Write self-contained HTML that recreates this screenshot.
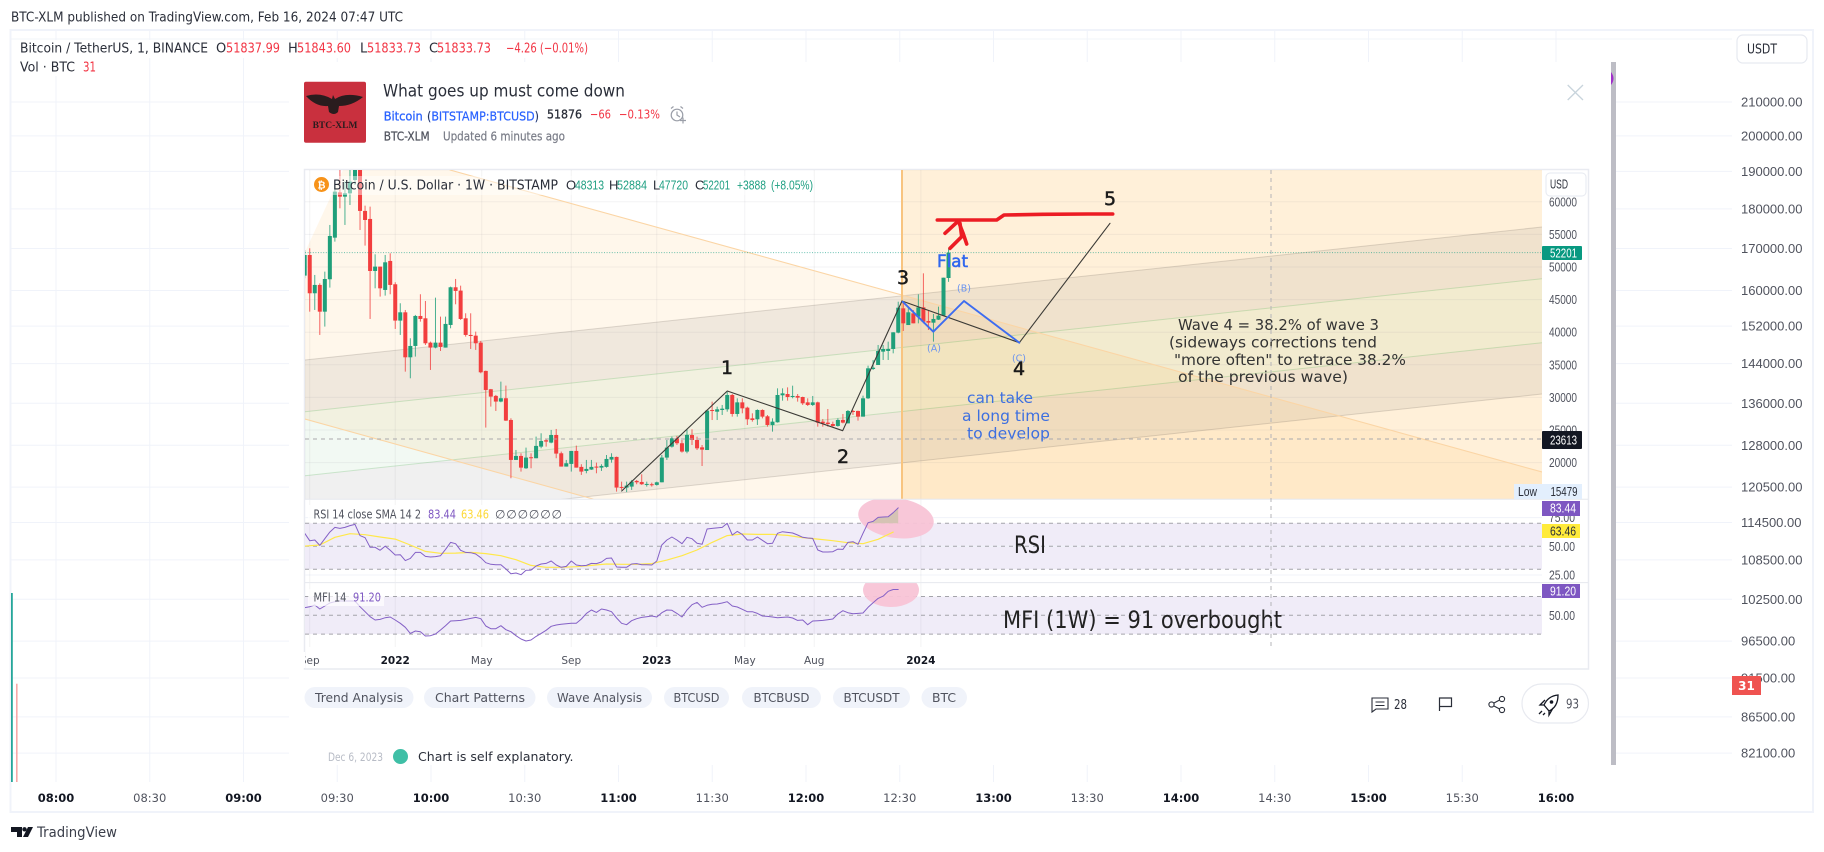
<!DOCTYPE html>
<html lang="en">
<head>
<meta charset="utf-8">
<title>BTC-XLM TradingView idea</title>
<style>
html,body{margin:0;padding:0;background:#fff;width:1824px;height:852px;overflow:hidden}
svg{display:block}
text{font-family:"DejaVu Sans","Liberation Sans",sans-serif;fill:#2a2e39;white-space:pre}
.l{font-family:"Liberation Sans","DejaVu Sans",sans-serif}
.r{fill:#f23645}.g{fill:#1f9f82}.b{fill:#2962ff}.m{fill:#787b86}
.pill{fill:#f0f3fa}
.ptxt{font-size:12.5px;fill:#50535e;text-anchor:middle}
.ind{font-size:12px;fill:#50535e}
</style>
</head>
<body>
<svg id="root" xmlns="http://www.w3.org/2000/svg" width="1824" height="852" viewBox="0 0 1824 852">
<defs>
<clipPath id="clipOuter"><rect x="11" y="31" width="1721" height="751"/></clipPath>
<clipPath id="clipMain"><rect x="305" y="170" width="1237" height="329"/></clipPath>
<clipPath id="clipRsi"><rect x="305" y="499" width="1237" height="83"/></clipPath>
<clipPath id="clipMfi"><rect x="305" y="583" width="1237" height="64"/></clipPath>
</defs>
<rect width="1824" height="852" fill="#fff"/>
<text x="11" y="21.5" font-size="13" textLength="392" lengthAdjust="spacingAndGlyphs">BTC-XLM published on TradingView.com, Feb 16, 2024 07:47 UTC</text>
<rect x="10.5" y="30" width="1802.5" height="782" fill="none" stroke="#f0f3fa" stroke-width="2"/>
<g id="outerGrid" clip-path="url(#clipOuter)"></g>
<g id="outerVol"></g>

<rect x="14" y="40" width="578" height="18" fill="#fff"/>
<rect x="14" y="58" width="86" height="18" fill="#fff"/>
<g>
<text x="20" y="52.5" font-size="13" textLength="188" lengthAdjust="spacingAndGlyphs">Bitcoin / TetherUS, 1, BINANCE</text>
<text x="216" y="52.5" font-size="13">O</text>
<text class="r" x="226" y="52.5" font-size="13" textLength="54" lengthAdjust="spacingAndGlyphs">51837.99</text>
<text x="288" y="52.5" font-size="13">H</text>
<text class="r" x="297" y="52.5" font-size="13" textLength="54" lengthAdjust="spacingAndGlyphs">51843.60</text>
<text x="360" y="52.5" font-size="13">L</text>
<text class="r" x="367" y="52.5" font-size="13" textLength="54" lengthAdjust="spacingAndGlyphs">51833.73</text>
<text x="429" y="52.5" font-size="13">C</text>
<text class="r" x="437" y="52.5" font-size="13" textLength="54" lengthAdjust="spacingAndGlyphs">51833.73</text>
<text class="r" x="506" y="52.5" font-size="13" textLength="82" lengthAdjust="spacingAndGlyphs">−4.26 (−0.01%)</text>
<text x="20" y="71.5" font-size="13" textLength="55" lengthAdjust="spacingAndGlyphs">Vol · BTC</text>
<text class="r" x="83" y="71.5" font-size="13" textLength="13" lengthAdjust="spacingAndGlyphs">31</text>
</g>

<rect x="1737" y="35" width="70" height="28" rx="6" fill="#fff" stroke="#e6e9f0" stroke-width="1.2"/>
<text x="1747" y="53.5" font-size="13" textLength="30" lengthAdjust="spacingAndGlyphs">USDT</text>
<g id="outerPriceAxis"></g>
<g id="outerTimeAxis"></g>
<rect x="1732" y="676" width="29" height="19" fill="#ef5350"/>
<text x="1746.5" y="690" font-size="12" font-weight="bold" text-anchor="middle" style="fill:#fff">31</text>

<g>
<path d="M11 827H22V837H17V832H11ZM33 827L28 837H23L28 827Z" fill="#131722"/>
<circle cx="24.5" cy="829.3" r="2.2" fill="#131722"/>
<text x="37" y="837" font-size="14" textLength="80" lengthAdjust="spacingAndGlyphs" style="fill:#3a3e4a">TradingView</text>
</g>

<!-- Idea popup -->
<rect x="289" y="62" width="1322" height="703" fill="#fff"/>
<rect x="1611" y="62" width="5" height="703" fill="#bdbdc5"/>
<path d="M1611 72Q1616 78.5 1611 85Z" fill="#a02fc9"/>
<g><path d="M1567.7 85L1583 100M1583 85L1567.7 100" stroke="#c8d4dc" stroke-width="1.3" fill="none"/></g>

<g>
<rect x="304" y="81.7" width="62" height="61" rx="2" fill="#c9303e"/>
<path d="M306 96Q320 92 332 99L333 95L335 99Q346 92 363 97Q352 106 339 106L338 112Q334 116 329 112L328 106Q316 107 306 96Z" fill="#2a1c1e"/>
<text x="335" y="128" font-size="9.5" font-weight="bold" text-anchor="middle" style="font-family:'Liberation Serif',serif;fill:#2a1c1e">BTC-XLM</text>
</g>
<text x="383" y="96.5" font-size="16.5" textLength="242" lengthAdjust="spacingAndGlyphs">What goes up must come down</text>
<text x="383.7" y="120.5" font-size="12.5" stroke="#2962ff" stroke-width=".3" textLength="39" lengthAdjust="spacingAndGlyphs" class="b">Bitcoin</text>
<text x="427" y="120.5" font-size="12.5" stroke="#2962ff" stroke-width=".2" textLength="112" lengthAdjust="spacingAndGlyphs"><tspan style="fill:#2a2e39">(</tspan><tspan class="b">BITSTAMP:BTCUSD</tspan><tspan style="fill:#2a2e39">)</tspan></text>
<text x="547" y="118.5" font-size="12.5" stroke="#2a2e39" stroke-width=".3" textLength="35" lengthAdjust="spacingAndGlyphs">51876</text>
<text class="r" x="590" y="118.5" font-size="12.5" textLength="21" lengthAdjust="spacingAndGlyphs">−66</text>
<text class="r" x="619" y="118.5" font-size="12.5" textLength="41" lengthAdjust="spacingAndGlyphs">−0.13%</text>
<g fill="none" stroke="#9a9ea8" stroke-width="1.2">
<circle cx="677" cy="115" r="5.8"/>
<path d="M677 111.5V115L680 117M671 108.5L673.5 106.5M683 108.5L680.5 106.5M680 120.5H686M683 117.5V123.5"/>
</g>
<text x="383.7" y="140.5" font-size="12.5" stroke="#50535e" stroke-width=".25" textLength="46" lengthAdjust="spacingAndGlyphs" style="fill:#50535e">BTC-XLM</text>
<text class="m" x="443" y="140.5" font-size="12.5" stroke="#787b86" stroke-width=".2" textLength="122" lengthAdjust="spacingAndGlyphs">Updated 6 minutes ago</text>

<rect x="304.5" y="169.5" width="1284" height="499.5" fill="#fff" stroke="#e9ebf1" stroke-width="1.5"/>

<g id="mainPane" clip-path="url(#clipMain)"></g>
<g id="rsiPane" clip-path="url(#clipRsi)"></g>
<g id="mfiPane" clip-path="url(#clipMfi)"></g>

<line x1="305" x2="1588" y1="499.3" y2="499.3" stroke="#e6e8ee"/>
<line x1="305" x2="1588" y1="582.6" y2="582.6" stroke="#e6e8ee"/>

<g>
<rect x="312" y="176" width="502" height="19" fill="#fff" opacity=".45"/>
<circle cx="321.5" cy="184.5" r="7.5" fill="#f7931a"/>
<text x="321.5" y="188.5" font-size="10" font-weight="bold" text-anchor="middle" style="fill:#fff">₿</text>
<text x="333" y="189.5" font-size="13" textLength="225" lengthAdjust="spacingAndGlyphs">Bitcoin / U.S. Dollar · 1W · BITSTAMP</text>
<text class="l" x="566" y="189.5" font-size="13">O</text>
<text class="l g" x="575" y="189.5" font-size="13" textLength="29" lengthAdjust="spacingAndGlyphs">48313</text>
<text class="l" x="609" y="189.5" font-size="13">H</text>
<text class="l g" x="617" y="189.5" font-size="13" textLength="30" lengthAdjust="spacingAndGlyphs">52884</text>
<text class="l" x="653" y="189.5" font-size="13">L</text>
<text class="l g" x="659" y="189.5" font-size="13" textLength="29" lengthAdjust="spacingAndGlyphs">47720</text>
<text class="l" x="695" y="189.5" font-size="13">C</text>
<text class="l g" x="703" y="189.5" font-size="13" textLength="27" lengthAdjust="spacingAndGlyphs">52201</text>
<text class="l g" x="737" y="189.5" font-size="13" textLength="29" lengthAdjust="spacingAndGlyphs">+3888</text>
<text class="l g" x="771" y="189.5" font-size="13" textLength="42" lengthAdjust="spacingAndGlyphs">(+8.05%)</text>
</g>

<g>
<rect x="308" y="505" width="258" height="17" fill="#fff" opacity=".8"/>
<text class="ind" x="313.5" y="518.5" textLength="107.5" lengthAdjust="spacingAndGlyphs">RSI 14 close SMA 14 2</text>
<text class="ind" x="428" y="518.5" textLength="28" lengthAdjust="spacingAndGlyphs" style="fill:#7e57c2">83.44</text>
<text class="ind" x="461" y="518.5" textLength="28" lengthAdjust="spacingAndGlyphs" style="fill:#fdd835">63.46</text>
<text class="ind" x="495" y="518.5" textLength="67" lengthAdjust="spacing">∅ ∅ ∅ ∅ ∅ ∅</text>
</g>
<g>
<rect x="308" y="589" width="76" height="17" fill="#fff" opacity=".7"/>
<text class="ind" x="313.5" y="601.5" textLength="33" lengthAdjust="spacingAndGlyphs">MFI 14</text>
<text class="ind" x="353" y="601.5" textLength="28" lengthAdjust="spacingAndGlyphs" style="fill:#7e57c2">91.20</text>
</g>

<g id="innerAxes"></g>

<rect x="1546" y="173" width="40" height="23" rx="4" fill="#fff" stroke="#e6e9f0"/>
<text class="l" x="1550" y="188.5" font-size="12.5" textLength="18" lengthAdjust="spacingAndGlyphs">USD</text>

<rect x="1542" y="246" width="40" height="14" rx="1" fill="#089981"/>
<text class="l" x="1550" y="257.5" font-size="12.5" textLength="27" lengthAdjust="spacingAndGlyphs" style="fill:#fff">52201</text>
<rect x="1542" y="431" width="40" height="18" rx="1" fill="#131722"/>
<text class="l" x="1550" y="444.5" font-size="12.5" textLength="27" lengthAdjust="spacingAndGlyphs" style="fill:#fff">23613</text>
<rect x="1514" y="484" width="68" height="15" fill="#e3effd"/>
<text class="l" x="1518" y="496" font-size="12.5" textLength="19" lengthAdjust="spacingAndGlyphs">Low</text>
<text class="l" x="1550.5" y="496" font-size="12.5" textLength="27" lengthAdjust="spacingAndGlyphs">15479</text>
<rect x="1542" y="501" width="38" height="15" fill="#7e57c2"/>
<text class="l" x="1550" y="512.5" font-size="12.5" textLength="26" lengthAdjust="spacingAndGlyphs" style="fill:#fff">83.44</text>
<rect x="1542" y="524" width="38" height="14" fill="#ffeb3b"/>
<text class="l" x="1550" y="535.5" font-size="12.5" textLength="26" lengthAdjust="spacingAndGlyphs">63.46</text>
<rect x="1542" y="584" width="38" height="14" fill="#7e57c2"/>
<text class="l" x="1550" y="595.5" font-size="12.5" textLength="26" lengthAdjust="spacingAndGlyphs" style="fill:#fff">91.20</text>

<g>
<rect class="pill" x="304.5" y="687" width="109" height="21" rx="10.5"/>
<text class="ptxt" x="359" y="702" textLength="88" lengthAdjust="spacingAndGlyphs">Trend Analysis</text>
<rect class="pill" x="424" y="687" width="111.5" height="21" rx="10.5"/>
<text class="ptxt" x="480" y="702" textLength="90" lengthAdjust="spacingAndGlyphs">Chart Patterns</text>
<rect class="pill" x="547" y="687" width="105" height="21" rx="10.5"/>
<text class="ptxt" x="599.5" y="702" textLength="85" lengthAdjust="spacingAndGlyphs">Wave Analysis</text>
<rect class="pill" x="664" y="687" width="65" height="21" rx="10.5"/>
<text class="ptxt" x="696.5" y="702" textLength="46" lengthAdjust="spacingAndGlyphs">BTCUSD</text>
<rect class="pill" x="742" y="687" width="79" height="21" rx="10.5"/>
<text class="ptxt" x="781.5" y="702" textLength="56" lengthAdjust="spacingAndGlyphs">BTCBUSD</text>
<rect class="pill" x="833" y="687" width="77" height="21" rx="10.5"/>
<text class="ptxt" x="871.5" y="702" textLength="56" lengthAdjust="spacingAndGlyphs">BTCUSDT</text>
<rect class="pill" x="921.5" y="687" width="45.5" height="21" rx="10.5"/>
<text class="ptxt" x="944" y="702" textLength="24" lengthAdjust="spacingAndGlyphs">BTC</text>
</g>

<g>
<path d="M1372 698H1388V709H1376L1372 712ZM1375.5 702H1384.5M1375.5 705.5H1384.5" fill="none" stroke="#2a2e39" stroke-width="1.1"/>
<text x="1394" y="709" font-size="13" textLength="13" lengthAdjust="spacingAndGlyphs">28</text>
</g>
<path d="M1439.5 711V698H1451.5V706.5H1439.5" fill="none" stroke="#2a2e39" stroke-width="1.2"/>
<g fill="none" stroke="#2a2e39" stroke-width="1.1">
<circle cx="1502" cy="699" r="2.6"/>
<circle cx="1491.5" cy="704.5" r="2.6"/>
<circle cx="1502" cy="710" r="2.6"/>
<path d="M1494 703L1499.6 700M1494 706L1499.6 709"/>
</g>
<g>
<rect x="1522" y="684" width="66.5" height="39" rx="19.5" fill="#fff" stroke="#e8eaf0" stroke-width="1.2"/>
<path d="M1558 695Q1548 696 1544 705L1549 711Q1558 707 1558 695ZM1544 705L1540 705L1545 700M1549 711L1549 715L1553 708M1542 711L1539 714M1545 713L1543 715" fill="none" stroke="#131722" stroke-width="1.3"/>
<circle cx="1551.5" cy="702" r="1.8" fill="#131722"/>
<text x="1566" y="708.5" font-size="13" textLength="13" lengthAdjust="spacingAndGlyphs" style="fill:#50535e">93</text>
</g>

<text x="328" y="761" font-size="11.5" textLength="55" lengthAdjust="spacingAndGlyphs" style="fill:#b8bcc6">Dec 6, 2023</text>
<circle cx="400.5" cy="756.5" r="7.5" fill="#3fbfa6"/>
<text x="418" y="761" font-size="12.5" textLength="155.5" lengthAdjust="spacingAndGlyphs">Chart is self explanatory.</text>

<script>
/* ---------- data ---------- */
const ohlcOpen=[48680,51840,45970,47250,43150,48120,54500,61450,60790,61300,63350,66160,58600,57370,49390,50060,46480,50930,47350,41780,43050,36150,37890,42490,42130,38400,37640,38400,37640,41110,46890,46380,42130,39580,39470,38400,34060,31250,30230,29360,29870,26540,20410,21020,19130,20820,20670,22450,23430,23070,24240,21430,19390,19800,21790,19340,18720,18930,19390,19230,19340,20460,20870,16270,16170,16320,17190,17030,16580,16680,16580,16980,20770,22450,23730,22970,21690,24230,23470,22340,21930,28070,27810,28070,28170,30370,27460,29240,28430,26790,26640,28070,27100,25770,26180,30320,30520,30060,30220,30060,29240,28840,29240,26280,26130,25920,25620,26540,26020,27920,27920,27050,29860,34360,34970,37020,37120,37430,39930,43660,41100,42890,42380,43810,41720,41460,41920,42540,48313];
const ohlcHigh=[52610,52870,48780,47500,49290,56450,62580,64880,63090,65140,69000,66670,59410,59260,51950,50060,51850,52100,47660,44440,43410,39070,42650,45820,44790,38560,45300,42390,42390,46990,48170,47140,42900,42900,40090,38660,34110,31300,30380,32420,31810,26800,21940,21430,22300,21430,23990,24500,23580,25010,25160,21690,20410,21790,22610,19750,20410,20410,20000,19750,21170,21430,20920,17080,17080,17340,17340,18210,17080,16930,17080,21170,23470,23990,24090,23470,25160,25100,23980,22700,28070,29350,28580,28840,30880,30520,29860,29860,28580,27560,28170,28170,27300,26790,31390,31390,31540,31800,30520,30110,29860,30220,29350,26690,28220,26280,26790,27460,28070,28070,27970,30270,34870,35740,38040,38040,38550,40000,44680,44680,43660,43400,45810,49030,43400,42790,43920,48360,52884];
const ohlcLow=[48270,43150,43410,39580,40860,46840,53890,59000,56450,59510,62580,55680,53280,42030,46730,45460,45610,45820,40500,39580,33950,32930,36260,41620,38040,34210,37530,37120,37640,40600,44280,41880,39320,37430,37280,33700,25370,28590,27920,29250,26390,17600,20410,18620,19030,19130,20670,22200,22450,22960,20670,19390,19390,18620,19230,18110,18360,18880,18360,18720,19230,19990,15550,15810,15479,15810,16680,16580,16320,16320,16470,16980,20410,22300,22710,21530,21430,22700,21930,19480,21930,26530,26530,27300,27810,27050,27050,27560,25770,26280,25770,26790,25510,24750,26130,29500,29500,29860,29350,28840,28680,28680,25510,25510,25510,25510,25510,26020,26020,27300,26430,27050,29760,34200,34970,35740,35740,36760,39830,40180,41100,41360,41360,41360,40340,38550,41870,42540,47720];
const ohlcClose=[51840,45970,47250,43150,48160,54760,61560,60790,61300,63090,64880,58600,57210,49390,50060,46730,50720,47250,41780,43050,36150,37890,42490,42030,38300,37640,38400,37740,41270,46890,46330,42030,39580,39420,38300,33850,31140,30120,29360,29870,26440,20410,21020,19230,20770,20670,22560,23320,23220,24240,21380,19390,19900,21790,19230,18620,19030,19340,19230,19490,20560,20870,16170,16120,16470,17080,16980,16680,16730,16530,16980,20770,22300,23730,22970,21690,24240,23470,22190,21990,27970,27910,28170,28270,30370,27460,29240,28320,26640,26530,28070,27050,25770,26280,30370,30620,30060,30220,29960,29090,28840,29240,26130,26020,25920,25620,26540,26130,27920,27810,27050,29860,34460,34560,37120,37430,37430,39980,43760,41360,43050,41360,43810,41620,41460,42030,42540,48360,52201];

const rsiValues=[61.3,54.9,55.5,50.8,56.6,62.4,66.5,65.6,66.5,68,69.1,59.3,57.5,49.1,49.1,46.5,50.2,46.5,42.4,42.7,37.5,39.5,44.7,44.7,41.2,40.7,41,41.8,47.3,53.4,52.3,46.5,44.7,44.4,43.3,40.1,35.7,34.3,34,34,30.2,26.1,26.7,25.3,29.1,29.3,32.8,34.6,35.1,37.2,33.7,31.7,32.5,37.2,33.7,33.1,33.4,35.1,34.9,36.3,39.5,39.8,32,31.7,31.7,34.6,34.9,34,34,33.7,37.2,51.1,55.5,58.1,55.5,52.3,57.8,56.6,52.6,51.7,65.1,65.6,66,66.5,70,59.8,63,60.4,55.5,55.5,58.1,55.2,52.3,52.6,61.3,62.7,62.1,61.6,59.8,57.8,57.2,56.9,46.8,45,45,45.3,47.6,47.3,53.4,54,51.7,61.3,70.6,71.7,75.2,75.5,75.8,79.3,83.44];
const rsiMaStepWeeks=3;
const rsiMaValues=[50.2,51.1,57.8,61,60.1,58.1,56.3,51.1,45.6,43.9,44.1,44.7,43.6,41.8,38.3,33.4,31.7,31.7,32.2,33.4,34.6,34.3,34.3,34.9,38,41.8,46.8,53.4,59.3,60.7,60.4,60.4,59.5,57.5,56.3,54.9,53.1,52.3,56.1,62.4];
const mfiValues=[62.1,63.7,66.4,60,64.8,69.6,71.7,72.8,72.8,72.8,72.8,63.7,55.8,47.8,42.5,43.5,46.2,47.3,42.5,37.2,30.8,21.2,25,23.9,17,17.5,20.2,26.5,33.4,40.9,41.4,41.9,43.5,45.1,46.7,44.6,32.9,28.7,28.7,33.4,27,23.9,17.5,12.2,9,10.6,16.4,21.2,26,32.4,34.5,35.6,36.6,37.2,37.2,44.1,53.1,58.4,54.7,60,58.4,55.8,45.7,37.2,35,41.4,44.6,46.7,47.8,48.9,47.3,54.2,58.4,57.9,53.1,47.3,58.4,66.9,70.6,62.7,65.9,67.5,68,69.6,71.7,64.8,63.2,59.5,55.8,55.8,53.1,48.9,48.3,47.3,46.2,46.7,47.3,45.7,41.9,42.5,35,40.9,41.4,41.9,43,44.1,52,57.4,54.2,52.6,53.1,53.6,62.7,70.1,77,80.7,88.2,91.2,91.2];

const innerPriceTicks=[60000,55000,50000,45000,40000,35000,30000,25000,20000];
const innerTimeLabels=["Sep","2022","May","Sep","2023","May","Aug","2024"];
const innerTimeWeeks=[1,18,35.2,53,70,87.5,101.3,122.5];
const innerTimeMajor=[false,true,false,false,true,false,false,true];
const rsiTicks=[75,50,25];
const rsiBandLevels=[70,50,30];
const mfiTicks=[50];
const mfiBandLevels=[80,50,20];
const outerPriceTicks=[210000,200000,190000,180000,170000,160000,152000,144000,136000,128000,120500,114500,108500,102500,96500,91500,86500,82100];
const outerTimeLabels=["08:00","08:30","09:00","09:30","10:00","10:30","11:00","11:30","12:00","12:30","13:00","13:30","14:00","14:30","15:00","15:30","16:00"];
const outerVolumes=[100,52];
const outerVolumeColors=["#26a69a","#f7a9a7"];

/* ---------- scales ---------- */
const xWeek=i=>304.7+5.03*i;
const yPrice=p=>267+(50000-p)*32.6/5000;
const yRsi=v=>546.3-(v-50)*1.148;
const yMfi=v=>615.3-(v-50)*0.627;
const yOuter=p=>102+693.3*Math.log(210000/p);
const xOuterTime=k=>56+93.75*k;
const yVolume=v=>782-v*1.89;

const NS="http://www.w3.org/2000/svg";
function mk(parent,tag,attrs,txt){
  const el=document.createElementNS(NS,tag);
  for(const k in attrs){el.setAttribute(k,attrs[k]);}
  if(txt!==undefined){el.textContent=txt;}
  parent.appendChild(el);
  return el;
}
function pts(a){return a.map(p=>p[0].toFixed(1)+","+p[1].toFixed(1)).join(" ");}

/* ---------- outer chart ---------- */
const og=document.getElementById("outerGrid");
let e=mk(og,"line",{x1:11,x2:1732,y1:39,y2:39,stroke:"#f2f4f8"});


outerPriceTicks.forEach(p=>{
  const line=mk(og,"line",{x1:11,x2:1732,y1:yOuter(p),y2:yOuter(p),stroke:"#f0f3fa"});
  
  
});
outerTimeLabels.forEach((t,k)=>{
  const line=mk(og,"line",{x1:xOuterTime(k),x2:xOuterTime(k),y1:31,y2:782,stroke:"#f0f3fa"});
  
  
});
const ov=document.getElementById("outerVol");
outerVolumes.forEach((v,k)=>{
  const bar=mk(ov,"rect",{x:11+k*5,y:yVolume(v),width:k?1.6:1.8,height:782-yVolume(v),fill:outerVolumeColors[k]});
  
  
});
const opa=document.getElementById("outerPriceAxis");
outerPriceTicks.forEach(p=>{
  const lab=mk(opa,"text",{x:1741,y:yOuter(p)+4.6,"font-size":13,"class":"l",style:"fill:#50535e"},p.toFixed(2));
  
  
});
const ota=document.getElementById("outerTimeAxis");
outerTimeLabels.forEach((t,k)=>{
  const major=t.endsWith(":00");
  const lab=mk(ota,"text",{x:xOuterTime(k),y:802,"font-size":11.5,"font-weight":major?"bold":"normal","text-anchor":"middle",style:major?"fill:#131722":"fill:#50535e"},t);
  
  
});

/* ---------- main pane ---------- */
const mp=document.getElementById("mainPane");
function poly(parent,points,fill,name){
  const p=mk(parent,"polygon",{points:pts(points),fill:fill});
  
  
  return p;
}
function polyline(parent,points,stroke,w,name,extra){
  const p=mk(parent,"polyline",Object.assign({points:pts(points),fill:"none",stroke:stroke,"stroke-width":w,"stroke-linejoin":"round","stroke-linecap":"round"},extra||{}));
  
  
  return p;
}
poly(mp,[[902,170],[1542,170],[1542,499],[902,499]],"rgba(255,152,0,.15)","fib-time-zone-fill");
poly(mp,[[305,252],[343,170],[450,170],[1542,472],[1542,499],[593,499],[305,419]],"rgba(255,152,0,.08)","fan-band-fill");
const ch=x=>-0.1075*(x-305);
const lines=[360,411.7,475.7,527];
const ly=(n,x)=>lines[n]+ch(x);
const L=305,R=1542;
poly(mp,[[L,ly(0,L)],[R,ly(0,R)],[R,ly(1,R)],[L,ly(1,L)]],"rgba(100,100,100,.095)","channel-upper-band");
poly(mp,[[L,ly(1,L)],[R,ly(1,R)],[R,ly(2,R)],[L,ly(2,L)]],"rgba(76,175,80,.07)","channel-middle-band");
poly(mp,[[L,ly(2,L)],[R,ly(2,R)],[R,ly(3,R)],[L,ly(3,L)]],"rgba(100,100,100,.095)","channel-lower-band");
innerPriceTicks.forEach(p=>{
  const g=mk(mp,"line",{x1:305,x2:1542,y1:yPrice(p),y2:yPrice(p),stroke:"rgba(120,123,134,.09)"});
  
  
});
innerTimeWeeks.forEach(w=>{
  const g=mk(mp,"line",{x1:xWeek(w),x2:xWeek(w),y1:170,y2:499,stroke:"rgba(120,123,134,.09)"});
  
  
});
polyline(mp,[[L,ly(0,L)],[R,ly(0,R)]],"rgba(110,100,90,.22)",1,"channel-top-line");
polyline(mp,[[L,ly(1,L)],[R,ly(1,R)]],"rgba(76,175,80,.24)",1,"channel-upper-mid-line");
polyline(mp,[[L,ly(2,L)],[R,ly(2,R)]],"rgba(76,175,80,.24)",1,"channel-lower-mid-line");
polyline(mp,[[L,ly(3,L)],[R,ly(3,R)]],"rgba(110,100,90,.22)",1,"channel-bottom-line");
polyline(mp,[[450,170],[1542,472]],"#fbd5a5",1.1,"fan-upper-line");
polyline(mp,[[305,419],[593,499]],"#fbd5a5",1.1,"fan-lower-line");
polyline(mp,[[902,170],[902,499]],"#f8c47f",2,"fib-time-line",{"stroke-linecap":"butt"});

ohlcOpen.forEach((o,i)=>{
  const c=ohlcClose[i],h=ohlcHigh[i],l=ohlcLow[i];
  const col=c>=o?"#1f9f7a":"#f23e3e";
  const x=xWeek(i);
  const wick=mk(mp,"line",{x1:x,x2:x,y1:yPrice(h),y2:yPrice(l),stroke:col,"stroke-width":1,opacity:.8});
  
  
  const top=yPrice(Math.max(o,c));
  const hgt=Math.max(1,Math.abs(yPrice(o)-yPrice(c)));
  const body=mk(mp,"rect",{x:x-2,y:top,width:4,height:hgt,fill:col});
  
  
});

polyline(mp,[[305,yPrice(ohlcClose[ohlcClose.length-1])],[1542,yPrice(ohlcClose[ohlcClose.length-1])]],"#089981",1,"last-price-dotted-line",{"stroke-dasharray":"1 1.6","stroke-linecap":"butt",opacity:.6});
polyline(mp,[[305,yPrice(23613)],[1542,yPrice(23613)]],"#a9a9ad",1,"level-dashed-line",{"stroke-dasharray":"4 4","stroke-linecap":"butt"});

polyline(mp,[[621.7,491],[727.3,391],[842.7,430.7],[902,301],[1019.3,342.7],[1110,223.3]],"#3b3a36",1.1,"elliott-wave-line");
polyline(mp,[[902.7,301.7],[933.3,331.7],[964,301],[1019.3,342.7]],"#3d6cf0",1.9,"correction-wave-line");
polyline(mp,[[937.3,220],[996.7,220],[1004,215],[1043,214.3],[1088,214],[1112.7,214]],"#ec1c24",3.6,"resistance-brush-line");
polyline(mp,[[945,233.3],[958.3,221],[963,233],[966.7,244]],"#ec1c24",3.6,"red-arrow-head");
polyline(mp,[[960,223.3],[961.7,236.7],[950,248.3]],"#ec1c24",3.6,"red-arrow-shaft");

function note(t,x,y,size,fill,name,len,anchor,thick){
  const a={x:x,y:y,"font-size":size,style:"fill:"+fill};
  if(len){a.textLength=len;a.lengthAdjust="spacingAndGlyphs";}
  if(anchor){a["text-anchor"]=anchor;}
  if(thick){a.stroke=fill;a["stroke-width"]=thick;}
  const n=mk(mp,"text",a,t);
  
  
  return n;
}
note("1",727,374,19,"#1a1a1a","wave-label-1",0,"middle",.5);
note("2",843,463,19,"#1a1a1a","wave-label-2",0,"middle",.5);
note("3",903,284,19,"#1a1a1a","wave-label-3",0,"middle",.5);
note("4",1019,375,19,"#1a1a1a","wave-label-4",0,"middle",.5);
note("5",1110,205,19,"#1a1a1a","wave-label-5",0,"middle",.5);
note("Flat",937,267,17,"#2f66ee","flat-label",31,null,.5);
note("(B)",964,291.5,9.5,"#6a93ef","wave-label-b",0,"middle");
note("(A)",934,351.5,9.5,"#6a93ef","wave-label-a",0,"middle");
note("(C)",1019,361.5,9.5,"#6a93ef","wave-label-c",0,"middle");
note("can take",967,403,15,"#3d6fe0","note-can-take",66);
note("a long time",962,421,15,"#3d6fe0","note-long-time",88);
note("to develop",967,438.5,15,"#3d6fe0","note-to-develop",83);
note("Wave 4 = 38.2% of wave 3",1178,330,15,"#333","note-wave-4-line-1",201);
note("(sideways corrections tend",1169,347.5,15,"#333","note-wave-4-line-2",208);
note("\"more often\" to retrace 38.2%",1174,365,15,"#333","note-wave-4-line-3",232);
note("of the previous wave)",1178,382,15,"#333","note-wave-4-line-4",170);

/* ---------- RSI pane ---------- */
const rp=document.getElementById("rsiPane");
poly(rp,[[305,yRsi(rsiBandLevels[0])],[1542,yRsi(rsiBandLevels[0])],[1542,yRsi(rsiBandLevels[2])],[305,yRsi(rsiBandLevels[2])]],"#f0ecf8","rsi-band");
rsiTicks.forEach(t=>{
  const g=mk(rp,"line",{x1:305,x2:1542,y1:yRsi(t),y2:yRsi(t),stroke:"#f0f3fa"});
  
  
});
rsiBandLevels.forEach(t=>{
  polyline(rp,[[305,yRsi(t)],[1542,yRsi(t)]],"#a4a4aa",1,"rsi-band-dashed-line",{"stroke-dasharray":"4 4","stroke-linecap":"butt"});
});
innerTimeWeeks.forEach(w=>{
  const g=mk(rp,"line",{x1:xWeek(w),x2:xWeek(w),y1:499,y2:582,stroke:"rgba(120,123,134,.09)"});
  
  
});
const rsiEll=mk(rp,"ellipse",{cx:896,cy:518,rx:38,ry:20,fill:"#f8c4d6",opacity:.95,transform:"rotate(8 896 518)"});


const over=[];
rsiValues.forEach((v,i)=>{if(v>=rsiBandLevels[0]&&i>=112){over.push([xWeek(i),yRsi(v)]);}});
if(over.length){
  over.push([over[over.length-1][0],yRsi(rsiBandLevels[0])]);
  over.push([over[0][0],yRsi(rsiBandLevels[0])]);
  const of=poly(rp,over,"#c9c2a8","rsi-overbought-fill");
  of.setAttribute('opacity','.75');
}
polyline(rp,rsiMaValues.map((v,k)=>[xWeek(k*rsiMaStepWeeks),yRsi(v)]),"#ffe84a",1.2,"rsi-moving-average-line");
polyline(rp,rsiValues.map((v,i)=>[xWeek(i),yRsi(v)]),"#8460c6",1,"rsi-line");
const rsiTxt=mk(rp,"text",{x:1014,y:553,"font-size":24,textLength:32,lengthAdjust:"spacingAndGlyphs",style:"fill:#222"},"RSI");



/* ---------- MFI pane ---------- */
const fp=document.getElementById("mfiPane");
poly(fp,[[305,yMfi(mfiBandLevels[0])],[1542,yMfi(mfiBandLevels[0])],[1542,yMfi(mfiBandLevels[2])],[305,yMfi(mfiBandLevels[2])]],"#f0ecf8","mfi-band");
mfiBandLevels.forEach(t=>{
  polyline(fp,[[305,yMfi(t)],[1542,yMfi(t)]],"#a4a4aa",1,"mfi-band-dashed-line",{"stroke-dasharray":"4 4","stroke-linecap":"butt"});
});
innerTimeWeeks.forEach(w=>{
  const g=mk(fp,"line",{x1:xWeek(w),x2:xWeek(w),y1:583,y2:647,stroke:"rgba(120,123,134,.09)"});
  
  
});
const mfiEll=mk(fp,"ellipse",{cx:891,cy:590,rx:28,ry:17,fill:"#f8c4d6",opacity:.95});


polyline(fp,mfiValues.map((v,i)=>[xWeek(i),yMfi(v)]),"#8460c6",1,"mfi-line");
const mfiTxt=mk(fp,"text",{x:1003,y:628,"font-size":24,textLength:279,lengthAdjust:"spacingAndGlyphs",style:"fill:#222"},"MFI (1W) = 91 overbought");



/* ---------- inner axes ---------- */
const ia=document.getElementById("innerAxes");
const vline=mk(ia,"line",{x1:1271,x2:1271,y1:170,y2:647,stroke:"#b4b4b8","stroke-width":1,"stroke-dasharray":"4 4"});


innerPriceTicks.forEach(p=>{
  const lab=mk(ia,"text",{x:1549,y:yPrice(p)+4.5,"font-size":13,"class":"l",textLength:28,lengthAdjust:"spacingAndGlyphs",style:"fill:#50535e"},String(p));
  
  
});
rsiTicks.forEach(t=>{
  const lab=mk(ia,"text",{x:1549,y:yRsi(t)+4.5,"font-size":13,"class":"l",textLength:26,lengthAdjust:"spacingAndGlyphs",style:"fill:#50535e"},t.toFixed(2));
  
  
});
mfiTicks.forEach(t=>{
  const lab=mk(ia,"text",{x:1549,y:yMfi(t)+4.5,"font-size":13,"class":"l",textLength:26,lengthAdjust:"spacingAndGlyphs",style:"fill:#50535e"},t.toFixed(2));
  
  
});
innerTimeLabels.forEach((t,k)=>{
  const lab=mk(ia,"text",{x:xWeek(innerTimeWeeks[k]),y:664,"font-size":10.5,"text-anchor":"middle","font-weight":innerTimeMajor[k]?"bold":"normal",style:innerTimeMajor[k]?"fill:#131722":"fill:#50535e"},t);
  
  
});
const coverSep=mk(ia,"rect",{x:289,y:652,width:16,height:16,fill:"#fff"});


</script>
</svg>
</body>
</html>
